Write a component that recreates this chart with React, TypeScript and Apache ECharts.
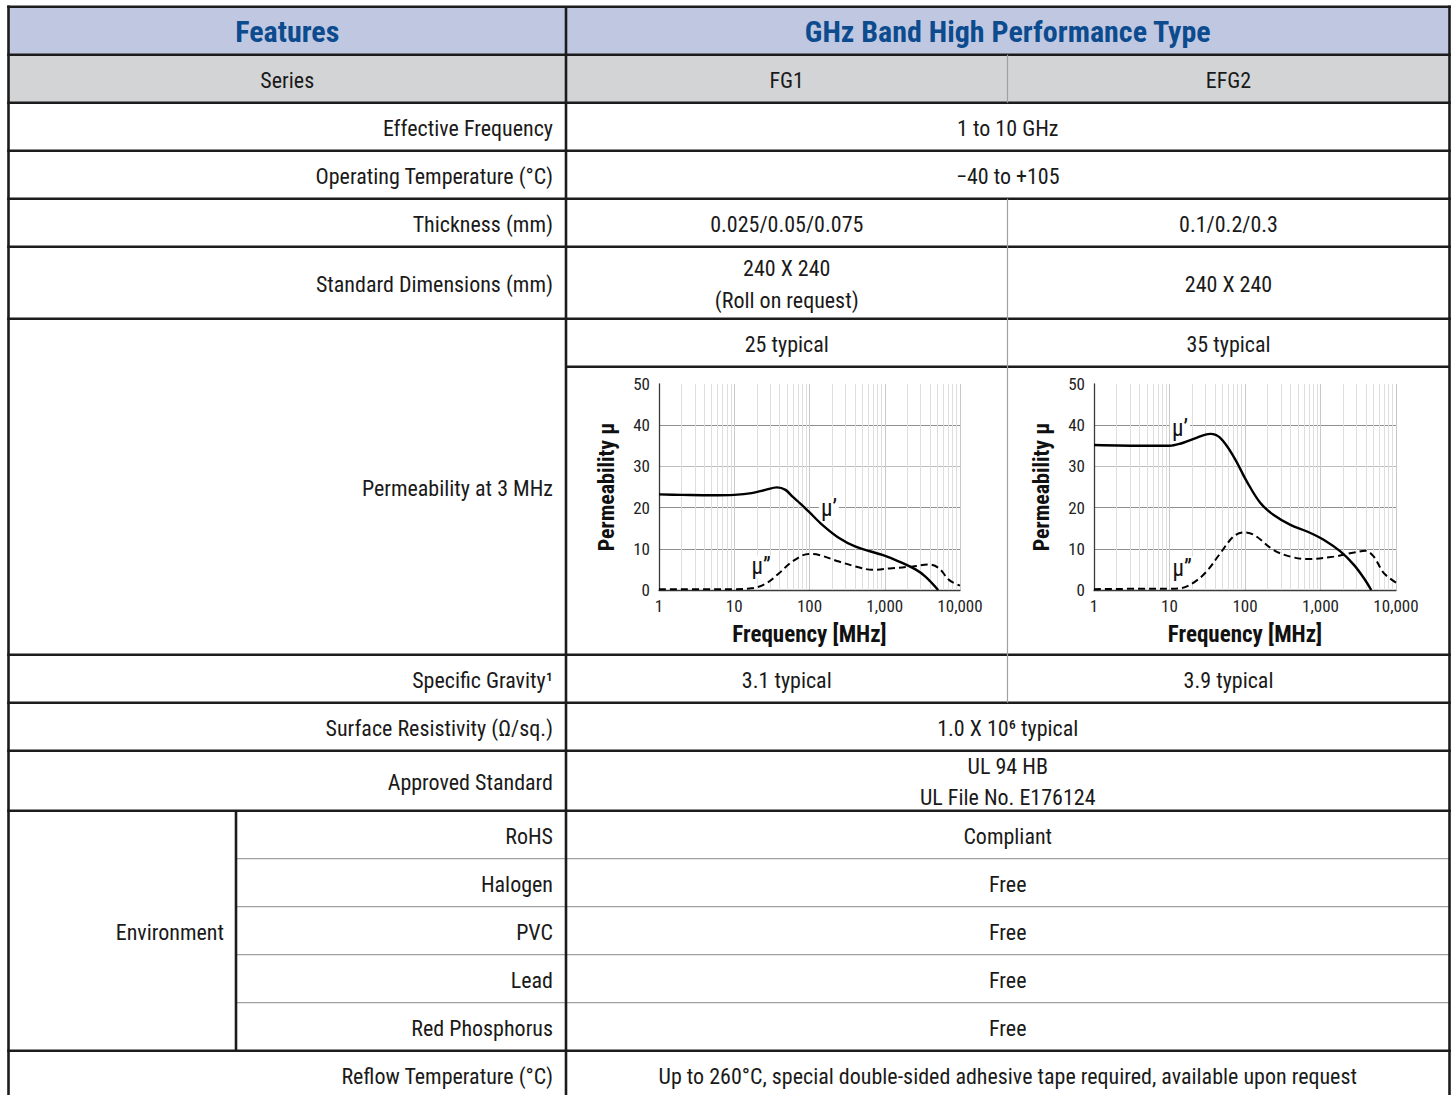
import React, { useEffect, useRef } from "react";
import * as echarts from "echarts";

const FONT = "'Roboto Condensed', 'Liberation Sans Narrow', 'Arial Narrow', 'DejaVu Sans Condensed', Roboto, sans-serif";

// ---------- table content ----------
const headerLeft = "Features";
const headerRight = "GHz Band High Performance Type";
const seriesLabel = "Series";
const seriesNames = ["FG1", "EFG2"];
const effectiveFrequency = "1 to 10 GHz";
const operatingTemperature = "\u221240 to +105";
const thickness = ["0.025/0.05/0.075", "0.1/0.2/0.3"];
const standardDimsFG1 = ["240 X 240", "(Roll on request)"];
const standardDimsEFG2 = ["240 X 240"];
const permeabilityTypical = ["25 typical", "35 typical"];
const specificGravity = ["3.1 typical", "3.9 typical"];
const surfaceResistivity = "1.0 X 10\u2076 typical";
const approvedStandard = ["UL 94 HB", "UL File No. E176124"];
const envItems = ["RoHS", "Halogen", "PVC", "Lead", "Red Phosphorus"];
const envValues = ["Compliant", "Free", "Free", "Free", "Free"];
const reflowText = "Up to 260\u00b0C, special double-sided adhesive tape required, available upon request";
const rowLabels = [
  "Effective Frequency",
  "Operating Temperature (\u00b0C)",
  "Thickness (mm)",
  "Standard Dimensions (mm)",
  "Permeability at 3 MHz",
  "Specific Gravity\u00b9",
  "Surface Resistivity (\u03a9/sq.)",
  "Approved Standard",
  "Environment",
  "Reflow Temperature (\u00b0C)",
];

// ---------- chart data ----------
const yTicks = [0, 10, 20, 30, 40, 50];
const xTickLabels = ["1", "10", "100", "1,000", "10,000"];
const minorGridFreqs = [2, 3, 4, 5, 6, 7, 8, 9, 20, 30, 40, 50, 60, 70, 80, 90, 200, 300, 400, 500, 600, 700, 800, 900, 2000, 3000, 4000, 5000, 6000, 7000, 8000, 9000];

const fg1RealFreq = [1, 2, 5, 10, 17, 26, 37, 48, 59, 75, 98, 148, 247, 410, 930, 1550, 2560, 3500, 5130];
const fg1RealMu = [23.2, 23.1, 23.0, 23.1, 23.5, 24.3, 24.9, 24.3, 22.7, 21.0, 19.0, 15.8, 12.6, 10.5, 8.5, 6.9, 5.0, 3.2, 0];
const fg1ImagFreq = [1, 5, 10, 17, 26, 39, 59, 98, 134, 247, 410, 685, 1250, 2330, 3860, 5230, 7200, 10000];
const fg1ImagMu = [0.2, 0.2, 0.2, 0.4, 1.5, 4.0, 6.9, 8.75, 8.5, 6.9, 5.7, 4.9, 5.3, 5.7, 6.2, 5.3, 2.4, 1.05];

const efg2RealFreq = [1, 5, 10, 13.8, 20.9, 34.8, 47, 70.6, 106, 160, 240, 400, 665, 1100, 1850, 2770, 3780, 4700];
const efg2RealMu = [35.2, 35.0, 35.0, 35.5, 36.7, 37.9, 36.9, 32.4, 26.3, 21.1, 18.2, 15.8, 14.2, 12.2, 9.3, 6.1, 2.8, 0];
const efg2ImagFreq = [1, 5, 10, 13.8, 20.9, 31, 47, 70.6, 96, 131, 240, 400, 665, 1500, 2770, 3920, 5080, 6900, 10000];
const efg2ImagMu = [0.2, 0.3, 0.3, 0.4, 1.8, 4.5, 8.9, 13.0, 14.0, 13.4, 9.7, 8.1, 7.5, 8.1, 9.1, 9.5, 8.1, 4.1, 1.8];

const muRealLabel = "\u03bc\u2019";
const muImagLabel = "\u03bc\u201d";
const fg1LabelPos = { real: [181, 19.9], imag: [22.7, 5.6] };
const efg2LabelPos = { real: [13.8, 39.3], imag: [14.7, 5.3] };

// ---------- layout ----------
const X_L = 8.5, X_ENV = 236, X_MID = 566, X_SPLIT = 1007.5, X_R = 1449.5;
const Y0 = 6.7;
const rowHeights = [48, 48, 48, 48, 48, 72, 48, 288, 48, 48, 60, 48, 48, 48, 48, 48, 48];
const rowY: number[] = [Y0];
rowHeights.forEach((h, i) => rowY.push(rowY[i] + h));

const BODY_SIZE = 22;
const HEAD_SIZE = 30;
const THICK = "#1c1c1c";
const THIN = "#a0a0a0";
const TEXT = "#1a1a1a";
const HEADER_BG = "#c0c8e1";
const HEADER_FG = "#0d4b8f";
const SERIES_BG = "#d3d4d6";

function zip(a: number[], b: number[]) {
  return a.map((v, i) => [v, b[i]]);
}

function hLine(x1: number, x2: number, y: number, thick = true) {
  return {
    type: "line",
    silent: true,
    z: 10,
    shape: { x1, y1: y, x2, y2: y },
    style: { stroke: thick ? THICK : THIN, lineWidth: thick ? 2.6 : 1.2 },
  };
}
function vLine(x: number, y1: number, y2: number, thick = true) {
  return {
    type: "line",
    silent: true,
    z: 10,
    shape: { x1: x, y1, x2: x, y2 },
    style: { stroke: thick ? THICK : THIN, lineWidth: thick ? 2.6 : 1.2 },
  };
}
function txt(x: number, y: number, text: string, align = "center", size = BODY_SIZE, weight: any = "normal", color = TEXT) {
  return {
    type: "text",
    silent: true,
    z: 11,
    x,
    y,
    style: {
      text,
      fill: color,
      fontSize: size,
      fontWeight: weight,
      fontFamily: FONT,
      align,
      verticalAlign: "middle",
      textAlign: align,
      textVerticalAlign: "middle",
    },
  };
}

function mid(i: number) {
  return (rowY[i] + rowY[i + 1]) / 2 + 1.5;
}

function buildGraphic() {
  const g: any[] = [];
  const C_ALL = (X_MID + X_R) / 2;
  const C_FG1 = (X_MID + X_SPLIT) / 2;
  const C_EFG2 = (X_SPLIT + X_R) / 2;
  const C_LEFT = (X_L + X_MID) / 2;
  const LABEL_R = 553;

  // backgrounds
  g.push({ type: "rect", silent: true, z: 1, shape: { x: X_L, y: rowY[0], width: X_R - X_L, height: rowY[1] - rowY[0] }, style: { fill: HEADER_BG } });
  g.push({ type: "rect", silent: true, z: 1, shape: { x: X_L, y: rowY[1], width: X_R - X_L, height: rowY[2] - rowY[1] }, style: { fill: SERIES_BG } });

  // horizontal lines
  const fullRows = [0, 1, 2, 3, 4, 5, 6, 8, 9, 10, 11, 16];
  fullRows.forEach((i) => g.push(hLine(X_L - 1.3, X_R + 1.3, rowY[i])));
  g.push(hLine(X_MID, X_R, rowY[7]));
  [12, 13, 14, 15].forEach((i) => g.push(hLine(X_ENV, X_R, rowY[i], false)));

  // vertical lines
  g.push(vLine(X_L, rowY[0] - 1.3, 1100));
  g.push(vLine(X_MID, rowY[0], 1100));
  g.push(vLine(X_R, rowY[0] - 1.3, 1100));
  g.push(vLine(X_ENV, rowY[11], rowY[16]));
  g.push(vLine(X_SPLIT, rowY[1], rowY[2], false));
  g.push(vLine(X_SPLIT, rowY[4], rowY[9], false));

  // header
  g.push(txt(C_LEFT, mid(0) - 1, headerLeft, "center", HEAD_SIZE, "bold", HEADER_FG));
  g.push(txt(C_ALL, mid(0) - 1, headerRight, "center", HEAD_SIZE, "bold", HEADER_FG));
  g.push(txt(C_LEFT, mid(1), seriesLabel));
  g.push(txt(C_FG1, mid(1), seriesNames[0]));
  g.push(txt(C_EFG2, mid(1), seriesNames[1]));

  // rows
  g.push(txt(LABEL_R, mid(2), rowLabels[0], "right"));
  g.push(txt(C_ALL, mid(2), effectiveFrequency));
  g.push(txt(LABEL_R, mid(3), rowLabels[1], "right"));
  g.push(txt(C_ALL, mid(3), operatingTemperature));
  g.push(txt(LABEL_R, mid(4), rowLabels[2], "right"));
  g.push(txt(C_FG1, mid(4), thickness[0]));
  g.push(txt(C_EFG2, mid(4), thickness[1]));
  g.push(txt(LABEL_R, mid(5), rowLabels[3], "right"));
  g.push(txt(C_FG1, mid(5) - 16, standardDimsFG1[0]));
  g.push(txt(C_FG1, mid(5) + 16, standardDimsFG1[1]));
  g.push(txt(C_EFG2, mid(5), standardDimsEFG2[0]));
  g.push(txt(LABEL_R, (rowY[6] + rowY[8]) / 2 + 1.5, rowLabels[4], "right"));
  g.push(txt(C_FG1, mid(6), permeabilityTypical[0]));
  g.push(txt(C_EFG2, mid(6), permeabilityTypical[1]));
  g.push(txt(LABEL_R, mid(8), rowLabels[5], "right"));
  g.push(txt(C_FG1, mid(8), specificGravity[0]));
  g.push(txt(C_EFG2, mid(8), specificGravity[1]));
  g.push(txt(LABEL_R, mid(9), rowLabels[6], "right"));
  g.push(txt(C_ALL, mid(9), surfaceResistivity));
  g.push(txt(LABEL_R, mid(10), rowLabels[7], "right"));
  g.push(txt(C_ALL, mid(10) - 15.5, approvedStandard[0]));
  g.push(txt(C_ALL, mid(10) + 15.5, approvedStandard[1]));
  g.push(txt(X_ENV - 12, (rowY[11] + rowY[16]) / 2 + 1.5, rowLabels[8], "right"));
  envItems.forEach((item, k) => {
    g.push(txt(LABEL_R, mid(11 + k), item, "right"));
    g.push(txt(C_ALL, mid(11 + k), envValues[k]));
  });
  g.push(txt(LABEL_R, mid(16), rowLabels[9], "right"));
  g.push(txt(C_ALL, mid(16), reflowText));
  return g;
}

function makeX(gridIndex: number) {
  return {
    type: "log",
    logBase: 10,
    min: 1,
    max: 10000,
    gridIndex,
    axisLine: { show: true, lineStyle: { color: "#3a3a3a", width: 1.3 } },
    axisTick: { show: false },
    axisLabel: {
      fontSize: 17,
      color: "#222",
      fontFamily: FONT,
      margin: 7,
      formatter: (v: number) => xTickLabels[Math.round(Math.log10(v))] ?? "",
    },
    splitLine: { show: true, lineStyle: { color: "#c9c9c9", width: 1 } },
    name: "Frequency [MHz]",
    nameLocation: "middle",
    nameGap: 33,
    nameTextStyle: { fontSize: 23, fontWeight: "bold", color: "#111", fontFamily: FONT },
  };
}

function makeY(gridIndex: number) {
  return {
    type: "value",
    min: yTicks[0],
    max: yTicks[yTicks.length - 1],
    interval: 10,
    gridIndex,
    axisLine: { show: true, lineStyle: { color: "#3a3a3a", width: 1.3 } },
    axisTick: { show: false },
    axisLabel: { fontSize: 17, color: "#222", fontFamily: FONT, margin: 9 },
    splitLine: {
      show: true,
      lineStyle: { color: ["#999999", "#8f8f8f", "#8f8f8f", "#bdbdbd", "#8f8f8f", "rgba(0,0,0,0)"], width: 1 },
    },
    name: "Permeability \u03bc",
    nameLocation: "middle",
    nameGap: 42,
    nameRotate: 90,
    nameTextStyle: { fontSize: 22, fontWeight: "bold", color: "#111", fontFamily: FONT },
  };
}

function gridSeries(idx: number) {
  return {
    type: "line",
    xAxisIndex: idx,
    yAxisIndex: idx,
    data: [[1, 0]],
    symbol: "none",
    lineStyle: { opacity: 0 },
    silent: true,
    z: 1,
    markLine: {
      silent: true,
      symbol: ["none", "none"],
      label: { show: false },
      lineStyle: { color: "#dedede", width: 1, type: "solid" },
      data: minorGridFreqs.map((f) => ({ xAxis: f })),
    },
  };
}

function muLabel(text: string, coord: number[]) {
  return {
    silent: true,
    symbol: "rect",
    symbolSize: 1,
    itemStyle: { color: "rgba(0,0,0,0)" },
    label: {
      show: true,
      position: "inside",
      formatter: text,
      fontSize: 23,
      color: "#111",
      fontFamily: FONT,
      backgroundColor: "#ffffff",
      padding: [0, 2],
    },
    data: [{ coord }],
  };
}

function curve(idx: number, freq: number[], mu: number[], dashed: boolean, label: string, pos: number[]) {
  return {
    type: "line",
    xAxisIndex: idx,
    yAxisIndex: idx,
    data: zip(freq, mu),
    symbol: "none",
    showSymbol: false,
    smooth: 0.35,
    z: 5,
    lineStyle: { color: "#000", width: dashed ? 2 : 2.4, type: dashed ? [7, 4] : "solid" },
    markPoint: muLabel(label, pos),
  };
}

export default function App() {
  const ref = useRef<HTMLDivElement>(null);
  useEffect(() => {
    if (!ref.current) return;
    const chart = echarts.init(ref.current, null, { renderer: "svg" });
    chart.setOption({
      animation: false,
      backgroundColor: "#ffffff",
      textStyle: { fontFamily: FONT },
      grid: [
        { left: 659, top: 384, width: 301, height: 206 },
        { left: 1094, top: 384, width: 302, height: 206 },
      ],
      xAxis: [makeX(0), makeX(1)],
      yAxis: [makeY(0), makeY(1)],
      series: [
        gridSeries(0),
        gridSeries(1),
        curve(0, fg1RealFreq, fg1RealMu, false, muRealLabel, fg1LabelPos.real),
        curve(0, fg1ImagFreq, fg1ImagMu, true, muImagLabel, fg1LabelPos.imag),
        curve(1, efg2RealFreq, efg2RealMu, false, muRealLabel, efg2LabelPos.real),
        curve(1, efg2ImagFreq, efg2ImagMu, true, muImagLabel, efg2LabelPos.imag),
      ],
      graphic: { elements: buildGraphic() },
    });
    return () => chart.dispose();
  }, []);
  return <div ref={ref} style={{ position: "absolute", left: 0, top: 0, width: 1453, height: 1095 }} />;
}
